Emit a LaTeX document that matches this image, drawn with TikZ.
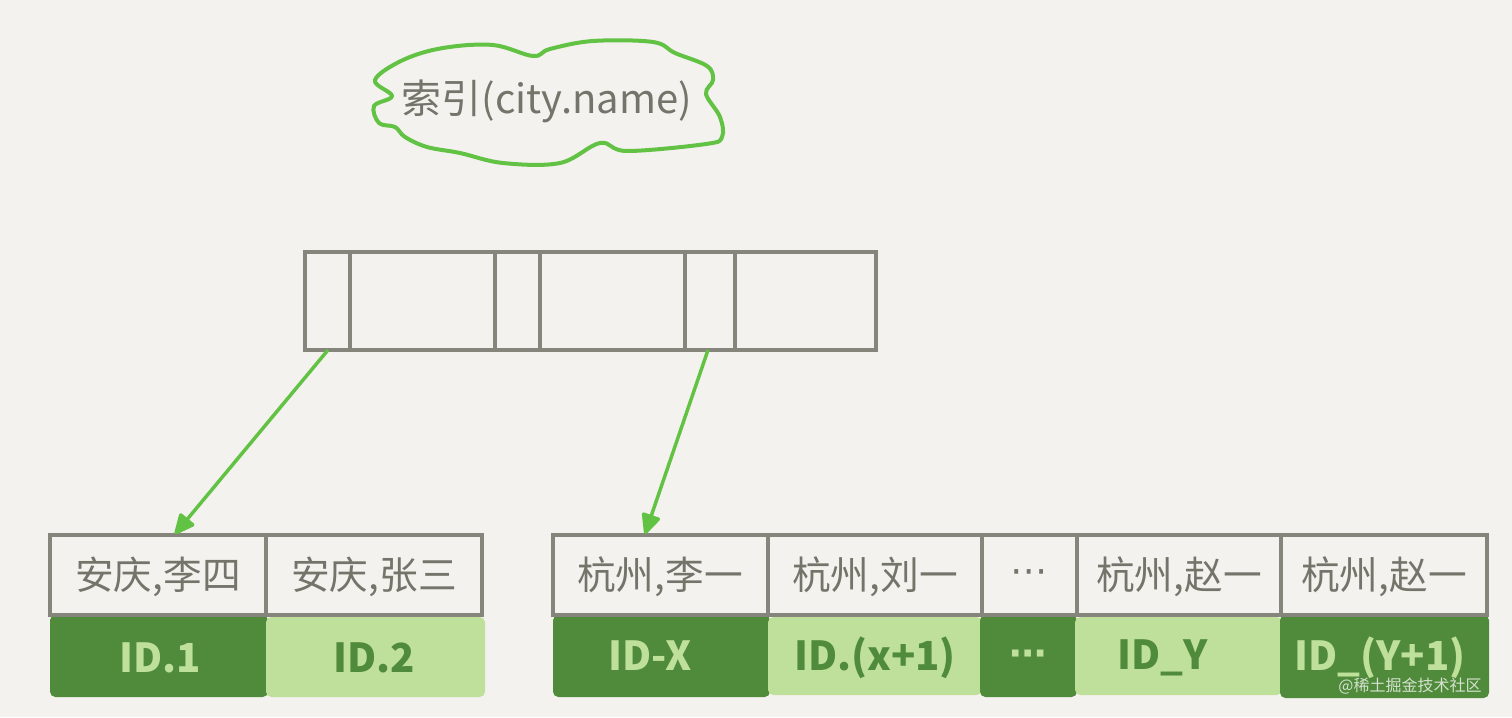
\documentclass[tikz,border=0pt]{standalone}
\usepackage{fontspec}
\setmainfont{Noto Sans CJK SC}
\newfontfamily\dotfont{DejaVu Sans}
\usetikzlibrary{arrows.meta}
\definecolor{bg}{HTML}{F4F2EE}
\definecolor{ink}{HTML}{75746A}
\definecolor{frame}{HTML}{86857B}
\definecolor{lgreen}{HTML}{62C244}
\definecolor{dgreen}{HTML}{508A3B}
\definecolor{pgreen}{HTML}{BEE09A}
\tikzset{
  grid/.style={draw=frame, line width=2.7pt},
  keytxt/.style={text=ink, font=\fontsize{29}{30}\selectfont, anchor=center},
  darkcell/.style={fill=dgreen, rounded corners=4pt},
  lightcell/.style={fill=pgreen, rounded corners=4pt},
  dtxt/.style={text=pgreen, font=\fontsize{30}{31}\selectfont\bfseries, anchor=center},
  ltxt/.style={text=dgreen, font=\fontsize{30}{31}\selectfont\bfseries, anchor=center},
  ptr/.style={draw=lgreen, line width=2.6pt, -{Triangle[length=17pt,width=15pt,round]}},
}
\begin{document}
\begin{tikzpicture}[x=0.75pt,y=-0.75pt]
\fill[bg] (0,0) rectangle (1512,717);
\useasboundingbox (0,0) rectangle (1512,717);

% cloud
\draw[lgreen, line width=3pt] plot[smooth cycle, tension=0.6] coordinates {
 (375,80) (403,60) (443,48) (493,45) (533,56) (550,49) (593,41) (653,42) (675,53)
 (707,66) (713,80) (706,94) (720,117) (722,137) (706,144) (627,151) (600,143)
 (560,163) (503,163) (460,153) (427,147) (405,137) (395,127) (379,123) (374,106) (392,96)};
\node[text=ink, font=\fontsize{30}{31}\selectfont] (idx) at (547,101) {索引(city.name)};

% top node
\draw[grid] (305,252) rectangle (876,350);
\foreach \x in {350,495,540,685,735} \draw[grid] (\x,252) -- (\x,350);
\coordinate (p1) at (328,350);
\coordinate (p2) at (708,350);

% left leaf
\fill[darkcell] (50,615) rectangle (268,697);
\fill[lightcell] (266,617) rectangle (485,697);
\draw[grid] (50,535) rectangle (482,615);
\draw[grid] (266,535) -- (266,615);
\node[keytxt] (k1) at (158,577) {安庆,李四};
\node[keytxt] (k2) at (374,577) {安庆,张三};
\node[dtxt] (v1) at (160,658) {ID.1};
\node[ltxt] (v2) at (374,658) {ID.2};

% right leaf
\fill[darkcell] (553,615) rectangle (770,697);
\fill[lightcell] (768,617) rectangle (982,695);
\fill[darkcell] (980,615) rectangle (1077,697);
\fill[lightcell] (1075,617) rectangle (1282,695);
\fill[darkcell] (1280,615) rectangle (1489,698);
\draw[grid] (553,535) rectangle (1487,615);
\foreach \x in {768,982,1077,1281} \draw[grid] (\x,535) -- (\x,615);
\node[keytxt] (k3) at (660,577) {杭州,李一};
\node[keytxt] (k4) at (875,577) {杭州,刘一};
\node[keytxt, font=\dotfont\fontsize{28}{30}\selectfont] (k5) at (1029,577) {⋯};
\node[keytxt] (k6) at (1179,577) {杭州,赵一};
\node[keytxt] (k7) at (1384,577) {杭州,赵一};
\node[dtxt] (v3) at (650,656) {ID-X};
\node[ltxt] (v4) at (875,658) {ID.(x+1)};
\node[dtxt, font=\dotfont\fontsize{28}{30}\selectfont\bfseries] (v5) at (1028,658) {⋯};
\node[ltxt] (v6) at (1163,658) {ID\_Y};
\node[dtxt] (v7) at (1380,658) {ID\_(Y+1)};

\coordinate (t1) at (175,534);
\coordinate (t2) at (645,534);
\draw[ptr] (p1) -- (t1);
\draw[ptr] (p2) -- (t2);

\node[text=white, opacity=0.75, font=\fontsize{12}{13}\selectfont] (wm) at (1410,686) {@稀土掘金技术社区};
\end{tikzpicture}
\end{document}
